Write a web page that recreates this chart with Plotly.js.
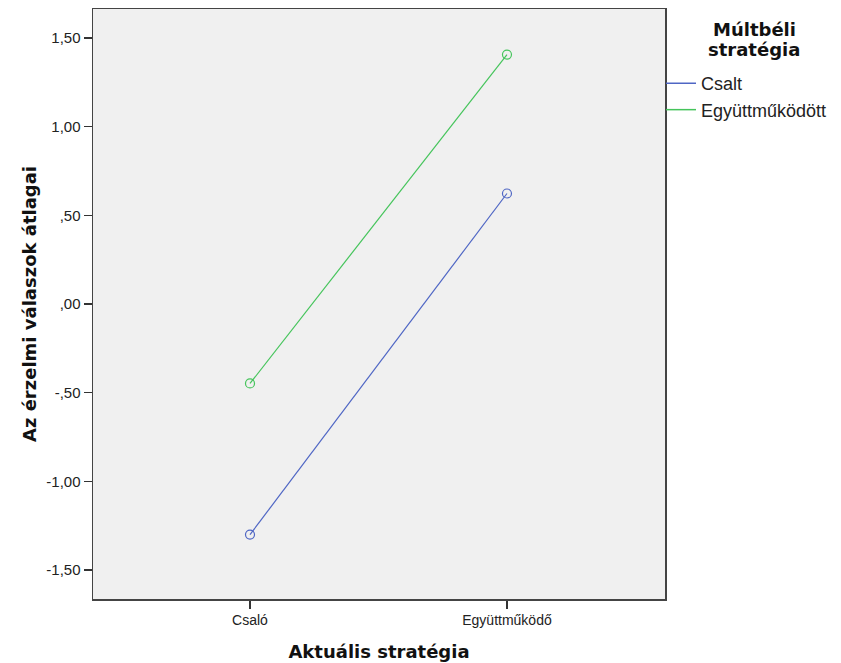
<!DOCTYPE html>
<html>
<head>
<meta charset="utf-8">
<script src="https://cdn.plot.ly/plotly-3.0.1.min.js"></script>
<style>html,body{margin:0;padding:0;background:#fff;}#chart{width:841px;height:663px;}</style>
</head>
<body>
<div id="chart"></div>
<script>
const categories = ["Csaló", "Együttműködő"];
const seriesNames = ["Csalt", "Együttműködött"];
const csaltValues = [-1.30, 0.623];
const egyuttValues = [-0.448, 1.406];
const yTickVals = [-1.5, -1.0, -0.5, 0.0, 0.5, 1.0, 1.5];
const yTickText = ["-1,50", "-1,00", "-,50", ",00", ",50", "1,00", "1,50"];
const legendTitleLines = ["Múltbéli", "stratégia"];
const colors = ["#4f66c4", "#45c45b"];

const dataTraces = [csaltValues, egyuttValues].map((vals, i) => ({
  type: "scatter",
  mode: "lines+markers",
  x: categories,
  y: vals,
  name: seriesNames[i],
  showlegend: false,
  line: {color: colors[i], width: 1.2},
  marker: {symbol: "circle-open", size: 9, color: colors[i], line: {width: 1.2}},
  hoverinfo: "skip"
}));

// legend-only entries (line only, as in the reference legend)
const legendTraces = seriesNames.map((name, i) => ({
  type: "scatter",
  mode: "lines",
  x: [null],
  y: [null],
  name: name,
  showlegend: true,
  line: {color: colors[i], width: 1.5},
  hoverinfo: "skip"
}));

const titleFont = {size: 18, color: "#111", family: "DejaVu Sans, sans-serif"};

const layout = {
  width: 841, height: 663,
  margin: {l: 93, r: 176, t: 9, b: 64},
  paper_bgcolor: "#ffffff",
  plot_bgcolor: "#f0f0f0",
  font: {family: "Liberation Sans, Arial, sans-serif", color: "#222"},
  showlegend: true,
  legend: {
    x: 0.993, xanchor: "left", y: 0.905, yanchor: "top",
    bgcolor: "rgba(0,0,0,0)",
    font: {size: 18, color: "#222", family: "Liberation Sans, Arial, sans-serif"},
    itemclick: false
  },
  annotations: legendTitleLines.map((t, i) => ({
    text: "<b>" + t + "</b>",
    xref: "paper", yref: "paper",
    x: (754 - 93) / 572, y: (599 - (30 + i * 19)) / 590,
    xanchor: "center", yanchor: "middle",
    showarrow: false,
    font: titleFont
  })),
  xaxis: {
    type: "category",
    range: [-0.611, 1.615],
    showgrid: false, zeroline: false,
    showline: true, mirror: true, linecolor: "#444", linewidth: 1.5,
    ticks: "outside", ticklen: 8, tickcolor: "#333", tickwidth: 1.5,
    tickfont: {size: 14, color: "#222"},
    title: {text: "<b>Aktuális stratégia</b>", standoff: 18, font: titleFont},
    fixedrange: true
  },
  yaxis: {
    range: [-1.663, 1.663],
    tickvals: yTickVals, ticktext: yTickText,
    showgrid: false, zeroline: false,
    showline: true, mirror: true, linecolor: "#444", linewidth: 1.5,
    ticks: "outside", ticklen: 8, tickcolor: "#333", tickwidth: 1.5,
    tickfont: {size: 15, color: "#222"},
    title: {text: "<b>Az érzelmi válaszok átlagai</b>", standoff: 5, font: titleFont},
    fixedrange: true
  }
};

Plotly.newPlot("chart", dataTraces.concat(legendTraces), layout, {staticPlot: true, displayModeBar: false});
</script>
</body>
</html>
